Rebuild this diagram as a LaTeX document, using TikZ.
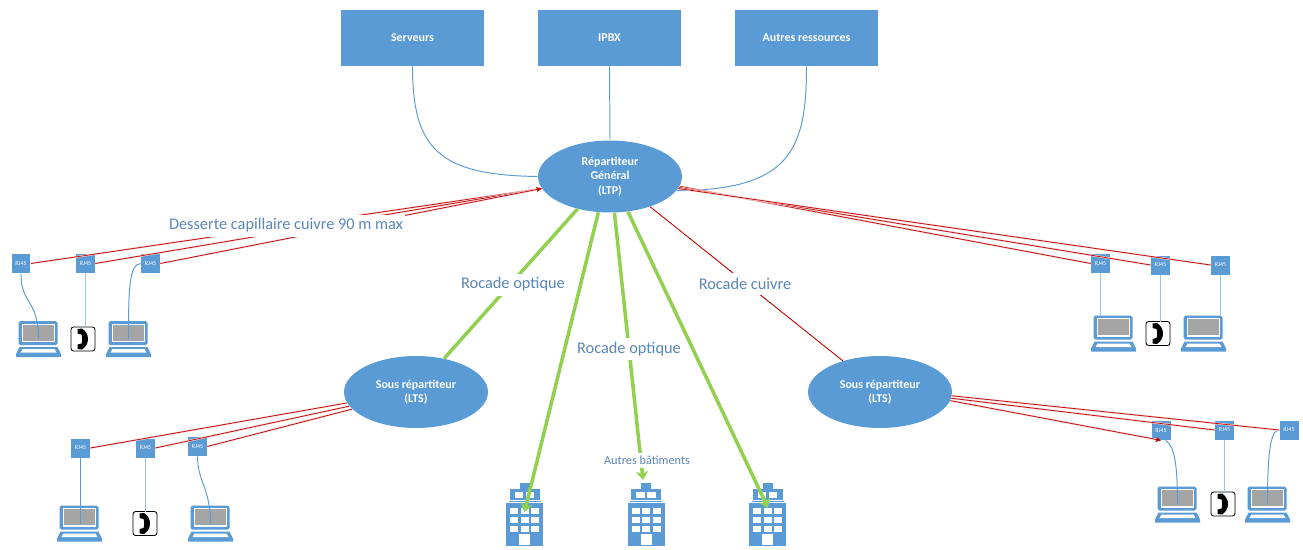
\documentclass[tikz,border=0pt]{standalone}
\usepackage{fontspec}
\setmainfont{Carlito}
\usepackage{tikz}
\usetikzlibrary{shapes.geometric,arrows.meta,calc}
\definecolor{bleu}{HTML}{5B9BD5}
\definecolor{bleuclair}{HTML}{9DC3E6}
\definecolor{bleutexte}{HTML}{5A86B8}
\definecolor{vert}{HTML}{92D050}
\definecolor{rouge}{HTML}{C00000}
\definecolor{gris}{HTML}{A5A5A5}
\tikzstyle{boite}=[fill=bleu,minimum width=2.86cm,minimum height=1.12cm,inner sep=0pt,text=white,font=\bfseries\fontsize{6.8}{8}\selectfont]
\tikzstyle{repart}=[ellipse,fill=bleu,minimum width=2.88cm,minimum height=1.44cm,inner sep=0pt,align=center,text=white,font=\bfseries\fontsize{6.8}{8.3}\selectfont]
\tikzstyle{prise}=[fill=bleu,minimum size=0.38cm,inner sep=0pt,text=white,font=\fontsize{3.4}{4}\selectfont]
\tikzstyle{etiquette}=[fill=white,inner sep=1pt,minimum height=0.44cm,text=bleutexte,font=\fontsize{9.3}{11}\selectfont]
\tikzstyle{lien}=[draw=bleu,line width=0.55pt]
\tikzstyle{lienclair}=[draw=bleuclair,line width=1.1pt]
\tikzstyle{cuivre}=[preaction={draw=rouge!18,line width=1.1pt},draw=rouge,line width=0.4pt]
\tikzstyle{optique}=[draw=vert,line width=2pt]
\tikzstyle{fleche}=[-{Stealth[length=5pt,width=7pt]}]
\tikzstyle{flechefine}=[-{Stealth[length=3.2pt,width=3pt]}]
\tikzset{
  portable/.pic={
    \coordinate (-top) at (0,-18);
    \coordinate (-mid) at (0,0);
    \fill[bleu,rounded corners=1pt] (-20,-18) rectangle (19,6);
    \fill[white] (-16.5,-15.5) rectangle (16,3);
    \fill[gris] (-15.5,-14.5) rectangle (15,1.5);
    \fill[bleu] (-19,8) -- (19,8) -- (22.5,15) -- (22.5,18) -- (-22.5,18) -- (-22.5,15) -- cycle;
    \fill[white] (-16,10) -- (16,10) -- (18,13.5) -- (-18,13.5) -- cycle;
  },
  telephone/.pic={
    \coordinate (-top) at (0,-12);
    \draw[black,fill=white,rounded corners=1.5pt,line width=0.5pt] (-12,-12) rectangle (12,12);
    \fill[black] (-5.5,-10) -- (-1,-10.5) .. controls (3,-8) and (5,-4) .. (5,0)
      .. controls (5,4) and (3,8) .. (-1,10.5) -- (-5.5,10) -- (-5.5,5.5) -- (-1.5,4.5)
      .. controls (-0.5,2) and (-0.5,-2) .. (-1.5,-4.5) -- (-5.5,-5.5) -- cycle;
  },
  batiment/.pic={
    \coordinate (-top) at (0,0);
    \fill[bleu] (-5,0) rectangle (5,6);
    \fill[bleu] (-15,6) rectangle (15,17);
    \fill[bleu] (-16,18) rectangle (16,19);
    \fill[bleu] (-18.5,20) rectangle (18.5,63);
    \fill[white] (-10,9) rectangle (-1.5,15);
    \fill[white] (1,9) rectangle (9.5,15);
    \foreach \ligne in {25,34,43}
      \foreach \col in {-14.5,-4,6.5}
        \fill[white] (\col,\ligne) rectangle +(8,6);
    \fill[white] (-5.5,51) rectangle (5.5,62);
  }
}

\begin{document}
\begin{tikzpicture}[x=0.02cm,y=-0.02cm]
\useasboundingbox (0,0) rectangle (1303,549);
% locaux techniques
\node[boite] at (412.5,38) (Serveurs) {Serveurs};
\node[boite] at (609.5,38) (Ipbx) {IPBX};
\node[boite] at (806.5,38) (Autres) {Autres ressources};
\node[repart] at (610,176.5) (RG) {Répartiteur\\Général\\(LTP)};
\node[repart] at (416,392) (SRa) {Sous répartiteur\\(LTS)};
\node[repart] at (880,392) (SRb) {Sous répartiteur\\(LTS)};
% prises
\node[prise] at (21,263.5) (Rj1) {RJ45};
\node[prise] at (85.5,263.5) (Rj2) {RJ45};
\node[prise] at (150.5,263.5) (Rj3) {RJ45};
\node[prise] at (1100.5,263.5) (Rj4) {RJ45};
\node[prise] at (1160.5,265) (Rj5) {RJ45};
\node[prise] at (1220.5,265) (Rj6) {RJ45};
\node[prise] at (80.5,448) (Rj7) {RJ45};
\node[prise] at (145.5,448) (Rj8) {RJ45};
\node[prise] at (197.5,446.5) (Rj9) {RJ45};
\node[prise] at (1161,430.5) (Rj10) {RJ45};
\node[prise] at (1224.5,430) (Rj11) {RJ45};
\node[prise] at (1289,430) (Rj12) {RJ45};
% postes
\pic (Lap1) at (38.5,339) {portable};
\pic (Tel1) at (83,339) {telephone};
\pic (Lap2) at (128.5,339) {portable};
\pic (Lap3) at (1113.5,333.5) {portable};
\pic (Tel2) at (1158,333.5) {telephone};
\pic (Lap4) at (1203.5,333.5) {portable};
\pic (Lap5) at (79.5,523.5) {portable};
\pic (Tel3) at (145,523.5) {telephone};
\pic (Lap6) at (210.5,523.5) {portable};
\pic (Lap7) at (1177.5,504.5) {portable};
\pic (Tel4) at (1223,504) {telephone};
\pic (Lap8) at (1267.5,504.5) {portable};
\pic (Bat1) at (524.5,483) {batiment};
\pic (Bat2) at (646,483) {batiment};
\pic (Bat3) at (767.5,483) {batiment};
% liaisons vers le LTP
\draw[lien] (Serveurs.south) .. controls +(0,84) and (440,175) .. (RG.180);
\draw[lien] (Ipbx.south) -- (RG.north);
\draw[lien] (Autres.south) .. controls +(0,84) and (790,190) .. (RG.-12);
% prises vers postes
\draw[lien] (Rj1.south) .. controls +(0,32) and +(0,-40) .. (Lap1-mid);
\draw[lienclair] (Rj2.south) -- (Rj2.south |- Tel1-top);
\draw[lien] (Rj3.west) .. controls +(-12,0) and +(0,-45) .. (Lap2-mid);
\draw[lienclair] (Rj4.south) -- (Rj4.south |- Lap3-top);
\draw[lienclair] (Rj5.south) -- (Rj5.south |- Tel2-top);
\draw[lienclair] (Rj6.south) -- (Rj6.south |- Lap4-top);
\draw[lien] (Rj7.south) -- (Rj7.south |- Lap5-mid);
\draw[lienclair] (Rj8.south) -- (Rj8.south |- Tel3-top);
\draw[lien] (Rj9.south) .. controls +(0,25) and +(0,-35) .. (Lap6-mid);
\draw[lien] (Rj10.-65) .. controls +(9,6) and +(0,-40) .. (Lap7-mid);
\draw[lienclair] (Rj11.south) -- (Rj11.south |- Tel4-top);
\draw[lien] (Rj12.west) .. controls +(-9,0) and +(0,-50) .. (Lap8-mid);
% cuivre
\draw[cuivre] (Rj1.east) -- (RG.190);
\draw[cuivre] (Rj2.east) -- (RG.190);
\draw[cuivre,flechefine] (Rj3.east) -- (RG.190);
\draw[cuivre] (RG.-8) -- (Rj4.west);
\draw[cuivre] (RG.-9) -- (Rj5.west);
\draw[cuivre] (RG.-10) -- (Rj6.west);
\draw[cuivre] (SRa.189) -- (Rj7.east);
\draw[cuivre] (SRa.192) -- (Rj8.east);
\draw[cuivre] (SRa.195) -- (Rj9.east);
\draw[cuivre,flechefine] (SRb.-7) -- (Rj10.south);
\draw[cuivre] (SRb.-5) -- (Rj11.west);
\draw[cuivre] (SRb.-3) -- (Rj12.west);
\draw[draw=rouge,line width=0.5pt] (RG.-37) -- (SRb.140);
% optique
\draw[optique] (RG.-135) -- (SRa.50);
\draw[optique,fleche] (RG.-108.7) -- ($(Bat1-top)+(0,29)$);
\draw[optique,fleche] (RG.-83.6) -- ($(Bat2-top)+(-3,-3)$);
\draw[optique,fleche] (RG.-63) -- ($(Bat3-top)+(0.5,25)$);
% libelles
\node[etiquette] at (286,225.5) (Desserte) {Desserte capillaire cuivre 90 m max};
\node[etiquette] at (513,284.5) (Optique1) {Rocade optique};
\node[etiquette] at (629,349) (Optique2) {Rocade optique};
\node[etiquette] at (745,284) (Cuivre) {Rocade cuivre};
\node[etiquette,font=\fontsize{7}{8}\selectfont,inner sep=0.5pt,minimum height=0.3cm] at (647,460) (Batiments) {Autres bâtiments};
\end{tikzpicture}
\end{document}
